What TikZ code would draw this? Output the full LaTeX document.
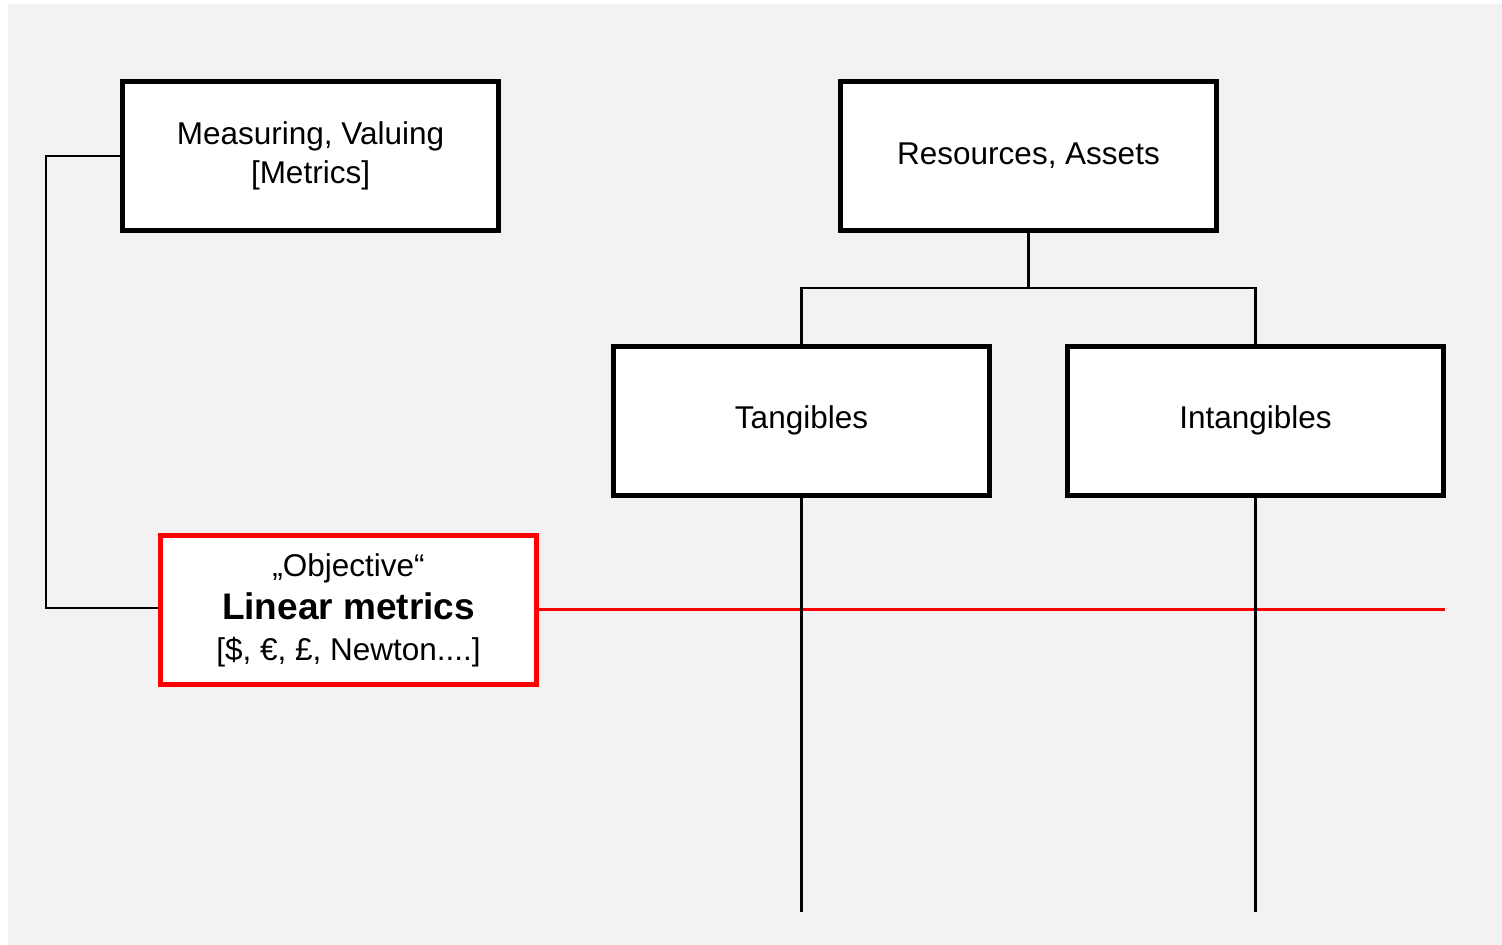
\documentclass[tikz,border=0pt]{standalone}
\usepackage{fontspec}
\setmainfont{Liberation Sans}
\definecolor{bggray}{HTML}{F2F2F2}
\definecolor{myred}{HTML}{FF0000}
\begin{document}
\begin{tikzpicture}[x=1pt,y=-1pt,
  box/.style={draw=black,line width=5pt,fill=white,minimum width=376pt,minimum height=149pt,inner sep=0pt,align=center,font=\fontsize{31.5}{39}\selectfont},
  redbox/.style={box,draw=myred},
  conn/.style={draw=black,line width=2.5pt},
  redconn/.style={draw=myred,line width=3pt}]
\useasboundingbox (0,0) rectangle (1502,945);
\fill[bggray] (8,4) rectangle (1502,945);
\node[box] (meas) at (310.5,156) {Measuring, Valuing\\{}[Metrics]};
\node[box] (res) at (1028.5,156) {Resources, Assets};
\node[box] (tan) at (801.5,420.5) {Tangibles};
\node[box] (intan) at (1255.5,420.5) {Intangibles};
\node[redbox] (lin) at (348.5,610) {\fontsize{31.5}{42}\selectfont „Objective“\\[4pt]
  \fontsize{37}{42}\selectfont\bfseries Linear metrics\\[2pt]
  \fontsize{31.5}{42}\selectfont [\$, €, £, Newton....]};
\coordinate (redend) at (1445,609);
\coordinate (tanend) at (801.5,912);
\coordinate (intanend) at (1255.5,912);
\coordinate (bar) at (1028.5,288);
\coordinate (leftx) at (46,0);
\draw[redconn] (lin.east |- 0,609) -- (redend);
\draw[conn] (res.south) -- (bar);
\draw[conn] (tan.north) -- (tan.north |- bar) -- (intan.north |- bar) -- (intan.north);
\draw[conn] (tan.south) -- (tanend);
\draw[conn] (intan.south) -- (intanend);
\draw[conn] (meas.west) -- (leftx |- meas.west) -- (leftx |- 0,608) -- (lin.west |- 0,608);
\end{tikzpicture}
\end{document}
